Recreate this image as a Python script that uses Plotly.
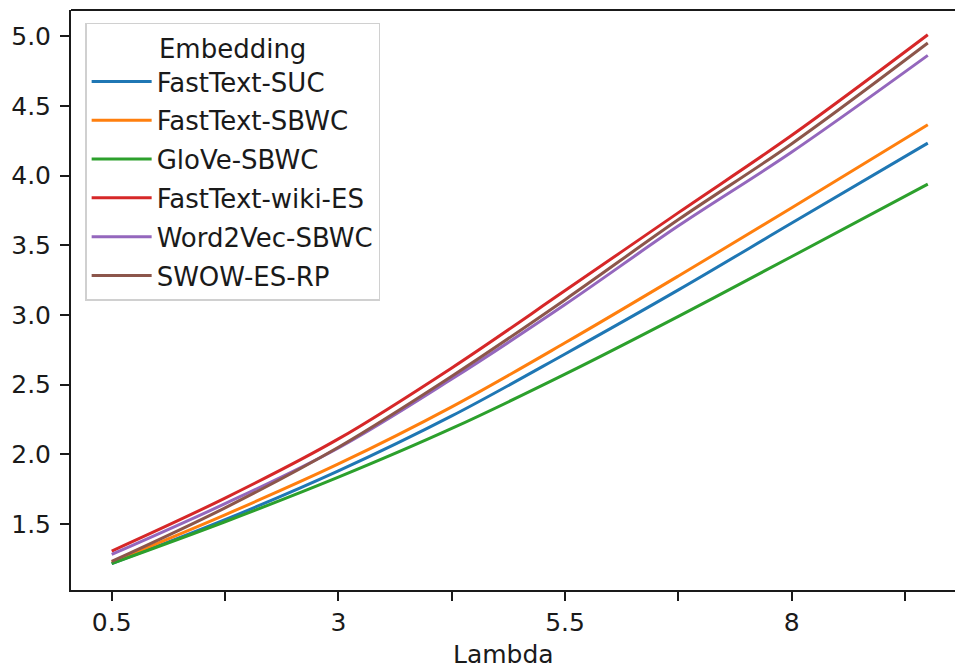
import plotly.graph_objects as go

lam = [0.5, 1.75, 3.0, 4.25, 5.5, 6.75, 8.0, 9.5]
names = ["FastText-SUC", "FastText-SBWC", "GloVe-SBWC", "FastText-wiki-ES", "Word2Vec-SBWC", "SWOW-ES-RP"]
fasttext_suc = [1.215, 1.53, 1.88, 2.275, 2.72, 3.18, 3.66, 4.234]
fasttext_sbwc = [1.225, 1.565, 1.93, 2.34, 2.80, 3.28, 3.77, 4.366]
glove_sbwc = [1.215, 1.515, 1.835, 2.185, 2.575, 2.99, 3.42, 3.94]
fasttext_wiki = [1.305, 1.685, 2.11, 2.62, 3.175, 3.735, 4.29, 5.012]
word2vec_sbwc = [1.28, 1.645, 2.045, 2.54, 3.075, 3.64, 4.17, 4.864]
swow_es_rp = [1.23, 1.615, 2.05, 2.56, 3.11, 3.685, 4.23, 4.953]
series = [fasttext_suc, fasttext_sbwc, glove_sbwc, fasttext_wiki, word2vec_sbwc, swow_es_rp]
colors = ["#1f77b4", "#ff7f0e", "#2ca02c", "#d62728", "#9467bd", "#8c564b"]

xtick_vals = [0.5, 1.75, 3.0, 4.25, 5.5, 6.75, 8.0, 9.25]
xtick_text = ["0.5", "", "3", "", "5.5", "", "8", ""]
ytick_vals = [1.5, 2.0, 2.5, 3.0, 3.5, 4.0, 4.5, 5.0]
ytick_text = ["1.5", "2.0", "2.5", "3.0", "3.5", "4.0", "4.5", "5.0"]

fig = go.Figure()
for i, (n, ys, c) in enumerate(zip(names, series, colors)):
    fig.add_trace(go.Scatter(x=lam, y=ys, name=n, mode="lines",
                             line=dict(color=c, width=3, shape="spline", smoothing=1.0),
                             legendgroup=str(i)))

font = dict(family="DejaVu Sans", size=25, color="#1a1a1a")
lfont = dict(family="DejaVu Sans", size=26, color="#1a1a1a")
fig.update_layout(
    width=955, height=668,
    margin=dict(l=71, r=0, t=10, b=78),
    plot_bgcolor="white", paper_bgcolor="white",
    font=font,
    showlegend=True,
    legend=dict(
        title=dict(text="Embedding", side="top center", font=lfont),
        x=0.016, y=0.978, xanchor="left", yanchor="top",
        bgcolor="rgba(255,255,255,0.8)", bordercolor="#d0d0d0", borderwidth=1.5,
        font=lfont, tracegroupgap=2, traceorder="grouped", itemwidth=60,
    ),
    xaxis=dict(range=[0.051, 9.80], tickmode="array", tickvals=xtick_vals, ticktext=xtick_text,
               showline=True, linecolor="#1a1a1a", linewidth=2, mirror=False,
               ticks="outside", ticklen=9, tickwidth=1.5, tickcolor="#1a1a1a",
               showgrid=False, zeroline=False),
    yaxis=dict(range=[1.025, 5.19], tickmode="array", tickvals=ytick_vals, ticktext=ytick_text,
               showline=True, linecolor="#1a1a1a", linewidth=2, mirror=False,
               ticks="outside", ticklen=9, tickwidth=1.5, tickcolor="#1a1a1a",
               ticklabelstandoff=4,
               showgrid=False, zeroline=False),
    shapes=[dict(type="line", xref="paper", yref="paper", x0=0, x1=1, y0=1, y1=1,
                 line=dict(color="#1a1a1a", width=2))],
    annotations=[dict(text="Lambda", xref="paper", yref="paper", x=(503 - 71) / 884, y=-0.112,
                      xanchor="center", yanchor="middle", showarrow=False, font=font)],
)

fig.write_html("out.html", config={"displayModeBar": False},
               post_script="document.body.style.margin='0';")
